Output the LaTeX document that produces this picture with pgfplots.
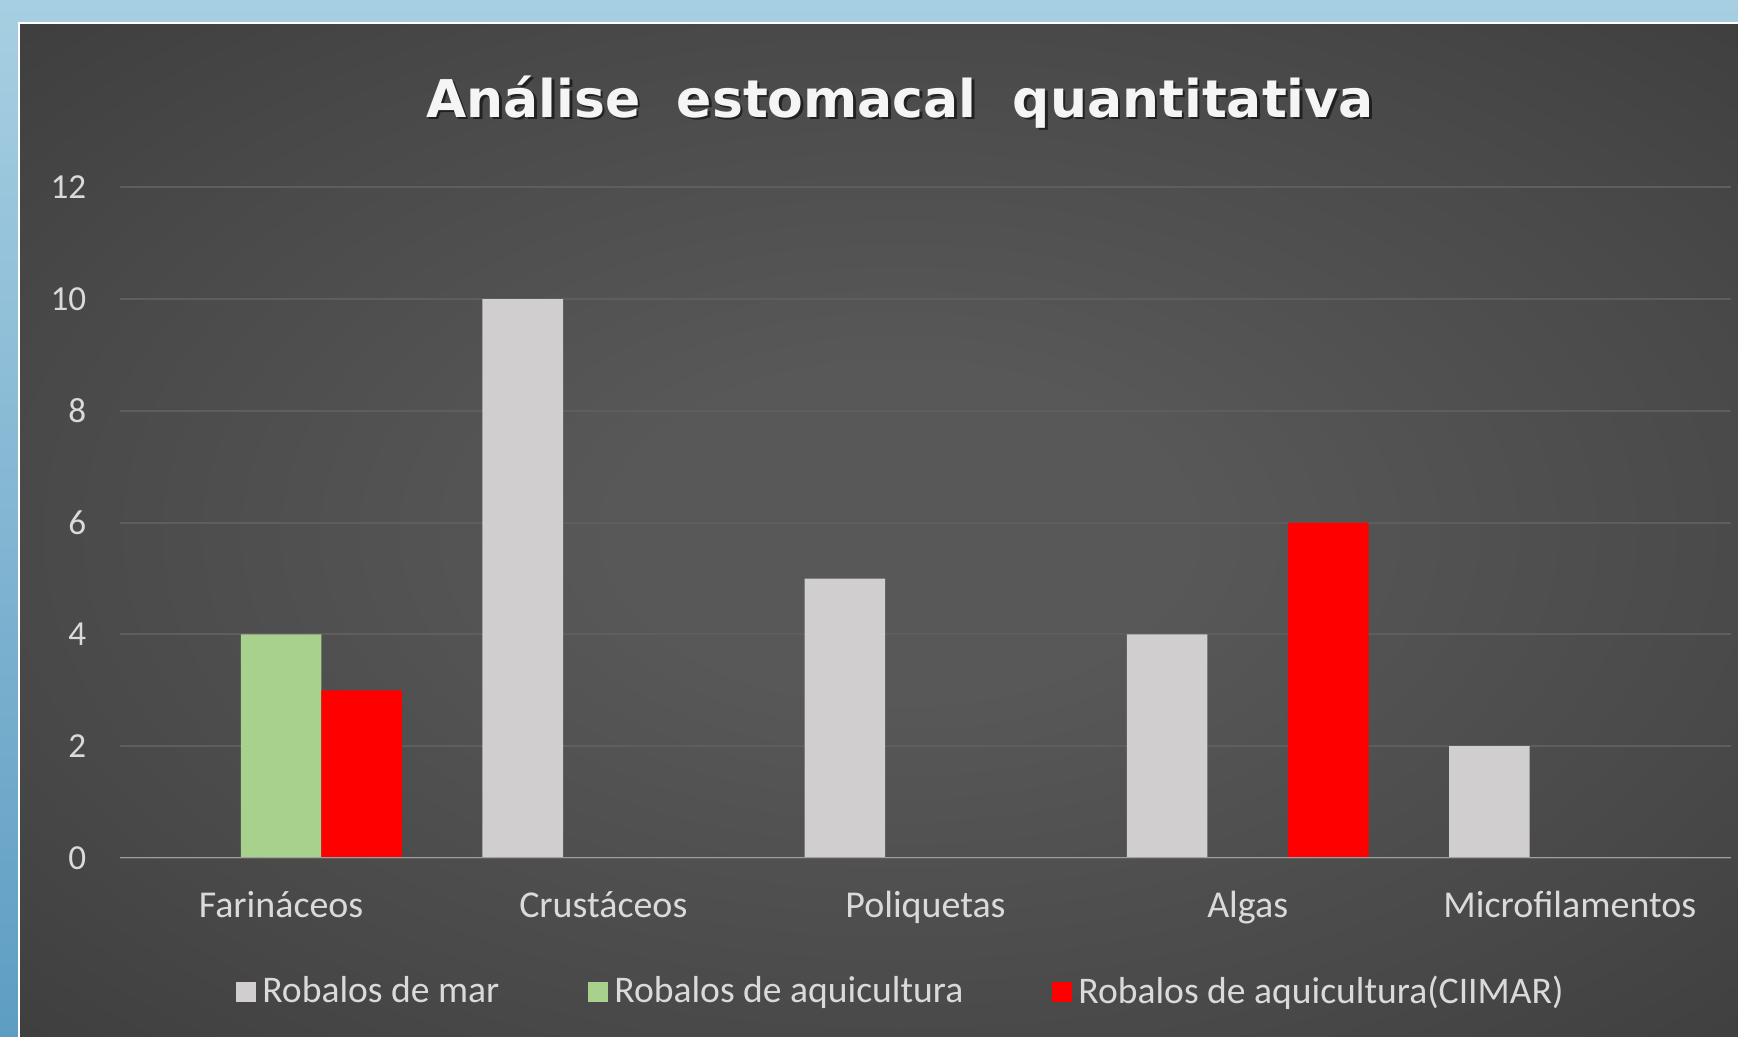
\documentclass[border=0pt]{standalone}
\usepackage{pgfplots}
\pgfplotsset{compat=1.18}
\usepackage{fontspec}
\setmainfont{Carlito}
\newfontfamily\titlefont{DejaVu Sans}
\definecolor{barGray}{HTML}{D0CECE}
\definecolor{barGreen}{HTML}{A9D18E}
\definecolor{barRed}{HTML}{FF0000}
\definecolor{txt}{HTML}{DADADA}
\definecolor{gridc}{HTML}{5E5E5E}
\definecolor{axisc}{HTML}{A0A0A0}
\definecolor{pcA}{HTML}{585858}
\definecolor{pcB}{HTML}{484848}
\definecolor{pcC}{HTML}{343434}
\definecolor{pcD}{HTML}{242424}
\definecolor{blueTop}{HTML}{A7CFE2}
\definecolor{blueBot}{HTML}{5E9DC3}
\pgfdeclareradialshading{panelshade}{\pgfpoint{0bp}{0bp}}{color(0bp)=(pcA); color(8bp)=(pcA); color(26bp)=(pcB); color(46bp)=(pcC); color(72bp)=(pcD)}
\pgfplotstableread{
x mar aqui ciimar
0 0 4 3
1 10 0 0
2 5 0 0
3 4 0 6
4 2 0 0
}\datatable
\begin{document}
\begin{tikzpicture}
\path[use as bounding box] (0,0) rectangle (173.8mm,103.7mm);
\shade[top color=blueTop, bottom color=blueBot] (0,0) rectangle (173.8mm,103.7mm);
\shade[shading=panelshade] (1.9mm,-0.5mm) rectangle (178mm,101.4mm);
\draw[white, line width=0.25mm] (1.9mm,-1mm) -- (1.9mm,101.4mm) -- (180mm,101.4mm);
\node[font=\titlefont\bfseries\fontsize{14.8}{16}\selectfont, text=black, opacity=0.55] at (90.25mm,93.25mm) {Análise\ \ estomacal\ \ quantitativa};
\node[font=\titlefont\bfseries\fontsize{14.8}{16}\selectfont, text=white!96!black] at (90mm,93.5mm) {Análise\ \ estomacal\ \ quantitativa};
\begin{axis}[
  at={(12mm,17.9mm)}, anchor=south west,
  scale only axis, width=161.1mm, height=67.07mm,
  xmin=-0.5, xmax=4.5, ymin=0, ymax=12,
  ytick={0,2,...,12}, xtick={0,1,2,3,4},
  xticklabels={Farináceos,Crustáceos,Poliquetas,Algas,Microfilamentos},
  axis line style={draw=none},
  major tick length=0pt,
  ymajorgrids, grid style={draw=gridc, line width=0.2mm},
  tick label style={text=txt, font=\fontsize{10.8}{12}\selectfont},
  yticklabel style={anchor=east, inner sep=0pt, xshift=-3.3mm, font=\fontsize{10}{11}\selectfont},
  xticklabel style={anchor=base, inner sep=0pt, yshift=-6.0mm},
  /pgf/number format/assume math mode=true,
  ybar=0pt, bar width=0.25,
  legend columns=3,
  legend style={draw=none, fill=none, at={(0.486,-0.2)}, anchor=center,
    text=txt, font=\fontsize{10.7}{12}\selectfont,
    nodes={inner sep=0.6mm},
    /tikz/every even column/.append style={column sep=8.3mm}},
  legend image code/.code={\fill[#1,draw=none] (0,-1mm) rectangle (2mm,1mm);},
]
\addplot[fill=barGray, draw=none, bar shift=-0.25] table[x=x, y=mar] {\datatable};
\addplot[fill=barGreen, draw=none, bar shift=0] table[x=x, y=aqui] {\datatable};
\addplot[fill=barRed, draw=none, bar shift=0.25] table[x=x, y=ciimar] {\datatable};
\draw[axisc, line width=0.25mm] (axis cs:-0.5,0) -- (axis cs:4.5,0);
\legend{Robalos de mar, Robalos de aquicultura, Robalos de aquicultura(CIIMAR)}
\end{axis}
\end{tikzpicture}
\end{document}
